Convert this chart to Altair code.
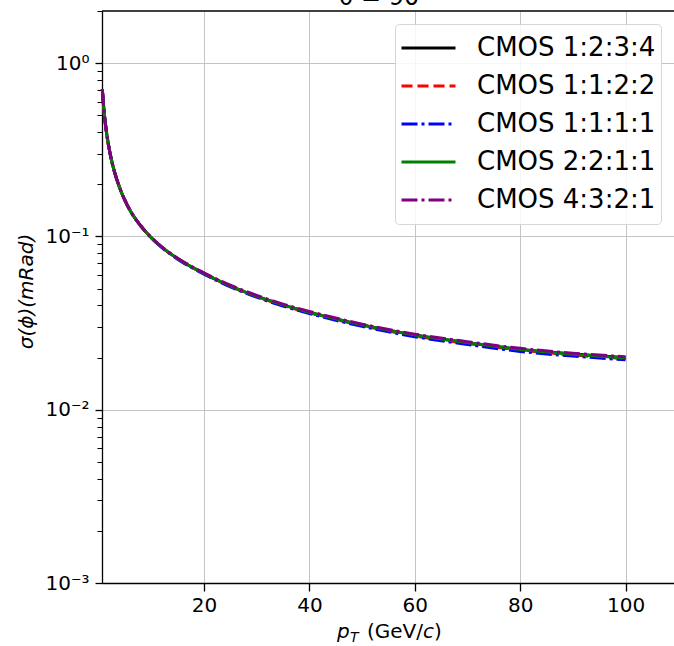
import altair as alt
import pandas as pd

# ---- data ----
pt = [0.7, 1, 1.5, 2, 2.5, 3, 4, 5, 6, 7, 8, 10, 12, 15, 20, 25, 30, 35, 40, 50, 60, 70, 80, 90, 100]

low = [0.705, 0.540, 0.398, 0.321, 0.271, 0.2367, 0.1908, 0.1614, 0.1407, 0.1263, 0.1150]

cmos_1234 = low + [0.0984, 0.0868, 0.0745, 0.0612, 0.0518, 0.0452, 0.0403, 0.0365, 0.0309, 0.0270, 0.0244, 0.0223, 0.0210, 0.0200]
cmos_1122 = low + [0.0983, 0.0866, 0.0743, 0.0609, 0.0515, 0.0449, 0.0400, 0.0362, 0.0306, 0.0267, 0.0241, 0.0221, 0.0207, 0.0197]
cmos_1111 = low + [0.0980, 0.0863, 0.0739, 0.0606, 0.0512, 0.0446, 0.0397, 0.0359, 0.0303, 0.0264, 0.0238, 0.0217, 0.0204, 0.0194]
cmos_2211 = low + [0.0984, 0.0868, 0.0745, 0.0612, 0.0518, 0.0452, 0.0403, 0.0365, 0.0309, 0.0270, 0.0244, 0.0223, 0.0209, 0.0199]
cmos_4321 = low + [0.0986, 0.0871, 0.0749, 0.0616, 0.0523, 0.0457, 0.0407, 0.0369, 0.0312, 0.0273, 0.0247, 0.0226, 0.0212, 0.0202]

series_names = ["CMOS 1:2:3:4", "CMOS 1:1:2:2", "CMOS 1:1:1:1", "CMOS 2:2:1:1", "CMOS 4:3:2:1"]
series_values = [cmos_1234, cmos_1122, cmos_1111, cmos_2211, cmos_4321]
series_colors = ["black", "red", "blue", "green", "purple"]
series_dash = [[1, 0], [11, 5], [16, 4, 3, 4], [1, 0], [16, 4, 3, 4]]

y_major = [0.001, 0.01, 0.1, 1]
y_minor = [m * d for d in [0.001, 0.01, 0.1, 1] for m in range(2, 10) if m * d <= 2.0]
x_ticks = [20, 40, 60, 80, 100]

rows = []
for i, (name, vals) in enumerate(zip(series_names, series_values)):
    for p, v in zip(pt, vals):
        rows.append({"pt": p, "sigma": v, "series": name, "order": i})
df = pd.DataFrame(rows)

FONT = "DejaVu Sans"
W, H = 572, 572

xscale = alt.Scale(domain=[0.64, 109.2], nice=False, zero=False)
yscale = alt.Scale(type="log", domain=[0.001, 2.0], nice=False)

x_axis = alt.Axis(values=x_ticks, title=None, labelFont=FONT, labelFontSize=20,
                  labelColor="black", tickColor="black", tickSize=8, tickWidth=1.3,
                  domainColor="black", domainWidth=1.3, labelPadding=4,
                  grid=True, gridColor="#c4c4c4", gridWidth=1)

lines = alt.Chart(df).mark_line(strokeWidth=3, interpolate="monotone").encode(
    x=alt.X("pt:Q", scale=xscale, axis=x_axis),
    y=alt.Y("sigma:Q", scale=yscale,
            axis=alt.Axis(values=y_major, title="σ(ϕ)(mRad)",
                          labelExpr="datum.value >= 0.5 ? '10⁰' : datum.value >= 0.05 ? '10⁻¹' : datum.value >= 0.005 ? '10⁻²' : '10⁻³'",
                          labelFont=FONT, labelFontSize=20, labelColor="black",
                          tickColor="black", tickSize=7, tickWidth=1.3, labelPadding=6,
                          domainColor="black", domainWidth=1.3,
                          grid=True, gridColor="#c4c4c4", gridWidth=1,
                          titleFont=FONT, titleFontSize=20, titleFontStyle="italic",
                          titleFontWeight="normal", titleColor="black",
                          titleX=-76, titleY=280, titleAngle=270,
                          titleAlign="center", titleBaseline="middle")),
    color=alt.Color("series:N", scale=alt.Scale(domain=series_names, range=series_colors),
                    legend=alt.Legend(title=None, orient="none", legendX=293, legendY=13,
                                      labelFont=FONT, labelFontSize=26, labelColor="black",
                                      labelLimit=0,
                                      symbolSize=2916, symbolStrokeWidth=3, symbolType="stroke",
                                      clipHeight=38, rowPadding=0, labelOffset=20,
                                      padding=5, fillColor="rgba(255,255,255,0.85)",
                                      strokeColor="#d6d6d6", cornerRadius=4)),
    strokeDash=alt.StrokeDash("series:N", scale=alt.Scale(domain=series_names, range=series_dash),
                              legend=None),
    order=alt.Order("order:Q"),
    detail="series:N",
)

minor = alt.Chart(df).mark_line(strokeOpacity=0).encode(
    x=alt.X("pt:Q", scale=xscale),
    y=alt.Y("sigma:Q", scale=yscale,
            axis=alt.Axis(orient="left", values=y_minor, labels=False, title=None,
                          tickColor="black", tickSize=5, tickWidth=1, domain=False, grid=False)),
)

one = alt.Data(values=[{}])

top_spine = alt.Chart(one).mark_rule(color="black", strokeWidth=1.3).encode(
    x=alt.value(0), x2=alt.value(W), y=alt.value(0))

title = alt.Chart(one).mark_text(text="θ = 90°", font=FONT, fontSize=24, align="center",
                                 baseline="alphabetic", color="black").encode(
    x=alt.value(283), y=alt.value(-6))

def piece(txt, x, y, size=20, style="normal"):
    return alt.Chart(one).mark_text(text=txt, font=FONT, fontSize=size, fontStyle=style,
                                    align="left", baseline="alphabetic", color="black").encode(
        x=alt.value(x), y=alt.value(y))

xt = [
    piece("p", 235, 627, 20, "italic"),
    piece("T", 248, 631, 14, "italic"),
    piece("(GeV/", 265, 627),
    piece("c", 321, 627, 20, "italic"),
    piece(")", 332, 627),
]

chart = alt.layer(lines, minor, top_spine, title, *xt).resolve_axis(
    y="independent"
).resolve_scale(y="shared").properties(
    width=W, height=H,
    autosize=alt.AutoSizeParams(type="none"),
    padding={"left": 102, "top": 11, "right": 0, "bottom": 63},
    background="white",
).configure_view(stroke=None)

chart.save("out.html", embed_options={"renderer": "svg", "actions": False})
